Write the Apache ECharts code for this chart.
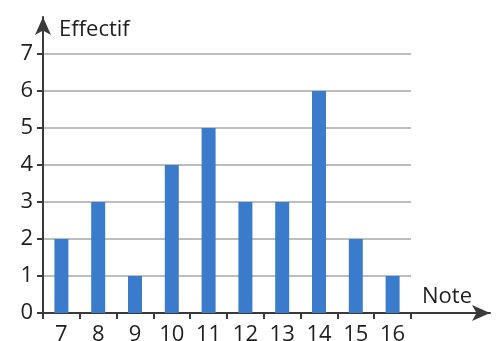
<!DOCTYPE html>
<html><head><meta charset="utf-8">
<script src="https://cdn.jsdelivr.net/npm/echarts@6/dist/echarts.min.js"></script>
<style>html,body{margin:0;padding:0;background:#fff}#c{width:498px;height:341px}</style>
</head><body><div id="c"></div>
<script>
const categories = ['7','8','9','10','11','12','13','14','15','16'];
const counts = [2,3,1,4,5,3,3,6,2,1];
const yTicks = [0,1,2,3,4,5,6,7];
const xName = 'Note';
const yName = 'Effectif';

const chart = echarts.init(document.getElementById('c'), null, {renderer:'canvas'});
const font = 'Open Sans';
const axisColor = '#3a3a3a';
const textColor = '#1e1e1e';
chart.setOption({
  animation:false,
  grid:[
    {left:43, right:87, top:54, bottom:28, containLabel:false, outerBoundsMode:'none'},
    {left:43, right:8, top:17, bottom:28, containLabel:false, outerBoundsMode:'none'}
  ],
  xAxis:[
    {gridIndex:0, type:'category', data:categories, boundaryGap:true,
     axisLine:{show:true, lineStyle:{color:axisColor, width:2}},
     axisTick:{show:true, alignWithLabel:false, length:6, lineStyle:{color:axisColor, width:2}},
     axisLabel:{color:textColor, fontFamily:font, fontSize:22, margin:11},
     splitLine:{show:false}},
    {gridIndex:1, type:'value', min:0, max:1,
     axisLine:{show:true, symbol:['none','arrow'], symbolSize:[12,18], lineStyle:{color:axisColor, width:2}},
     axisTick:{show:false}, axisLabel:{show:false}, splitLine:{show:false},
     name:xName, nameLocation:'end', nameGap:-18,
     nameTextStyle:{color:textColor, fontFamily:font, fontSize:22, align:'right', verticalAlign:'bottom', padding:[0,0,5,0]}}
  ],
  yAxis:[
    {gridIndex:0, type:'value', min:yTicks[0], max:yTicks[yTicks.length-1], interval:1,
     axisLine:{show:true, lineStyle:{color:axisColor, width:2}},
     axisTick:{show:true, length:6, lineStyle:{color:axisColor, width:2}},
     axisLabel:{color:textColor, fontFamily:font, fontSize:22, margin:10},
     splitLine:{show:true, lineStyle:{color:'#bdbdbd', width:2}}},
    {gridIndex:1, type:'value', min:0, max:1,
     axisLine:{show:true, symbol:['none','arrow'], symbolSize:[12,18], lineStyle:{color:axisColor, width:2}},
     axisTick:{show:false}, axisLabel:{show:false}, splitLine:{show:false},
     name:yName, nameLocation:'end', nameGap:-13,
     nameTextStyle:{color:textColor, fontFamily:font, fontSize:22, align:'left', verticalAlign:'middle', padding:[0,0,0,16]}}
  ],
  series:[{
    type:'bar', xAxisIndex:0, yAxisIndex:0, data:counts, barWidth:14,
    itemStyle:{color:'#3a7ccb'}, z:3
  }]
});
</script></body></html>
